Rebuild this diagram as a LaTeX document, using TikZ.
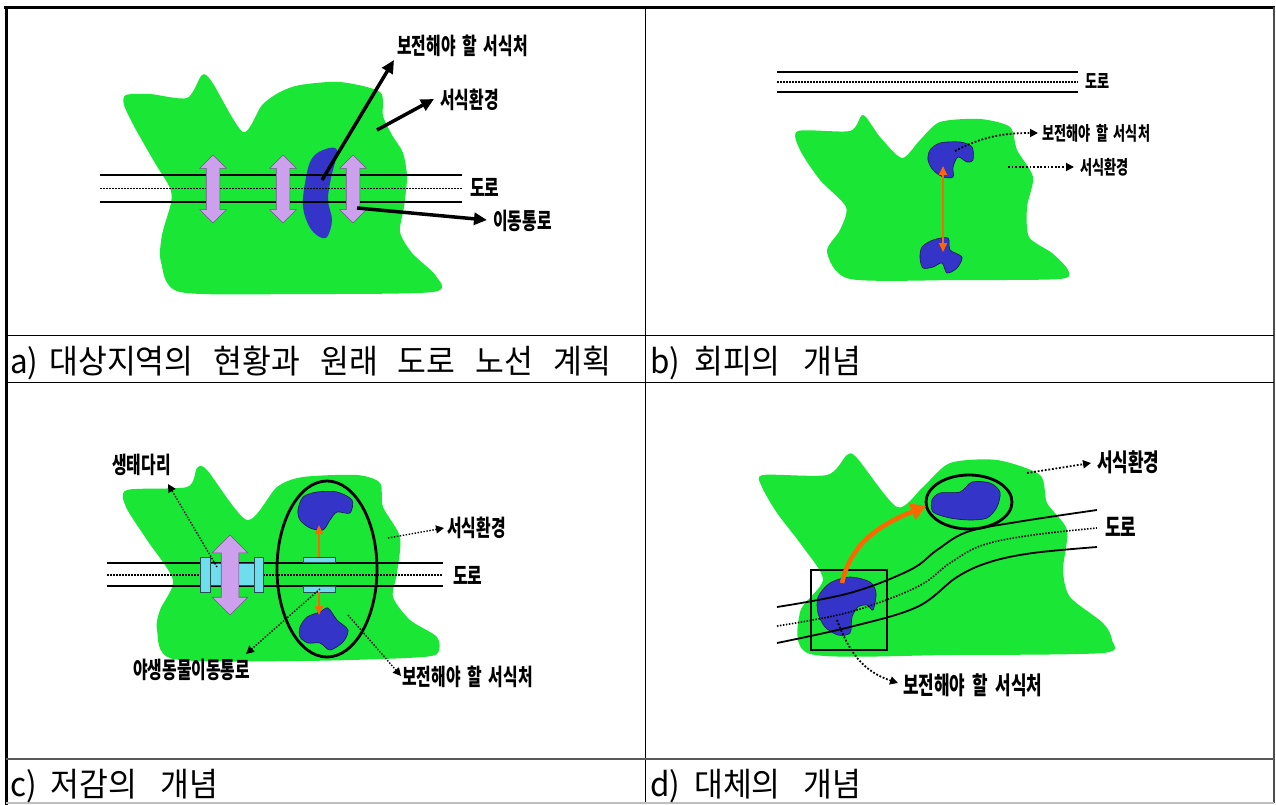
\documentclass[tikz,border=0pt]{standalone}
\usepackage{fontspec}
\newfontfamily\krf[FakeStretch=0.69]{Noto Sans CJK KR}
\newfontfamily\krcap[FakeStretch=0.95]{Noto Sans CJK KR}
\newcommand\ksp{\hspace{0.3em}}
\usetikzlibrary{arrows.meta,shapes.arrows}
\definecolor{grn}{RGB}{26,230,54}
\definecolor{blu}{RGB}{52,52,200}
\definecolor{pur}{RGB}{204,160,236}
\definecolor{cya}{RGB}{110,222,236}
\definecolor{org}{RGB}{255,102,0}
\begin{document}
\begin{tikzpicture}[x=1pt,y=-1pt,
  blob/.style={fill=grn,draw=none},
  pond/.style={fill=blu,draw=blu!40!black,line width=0.6},
  road/.style={line width=1.8},
  roaddot/.style={line width=1.5,dash pattern=on 1.5pt off 1.5pt},
  tbl/.style={line width=1},
  lblA/.style={font=\krf\bfseries\fontsize{23}{25}\selectfont,inner sep=0,anchor=west},
  lblB/.style={font=\krf\bfseries\fontsize{19}{21}\selectfont,inner sep=0,anchor=west},
  lblC/.style={font=\krf\bfseries\fontsize{23}{25}\selectfont,inner sep=0,anchor=west},
  lblD/.style={font=\krf\bfseries\fontsize{24.5}{26}\selectfont,inner sep=0,anchor=west},
  captxt/.style={font=\krcap\fontsize{33}{35}\selectfont,inner sep=0,anchor=base west},
  bigarrow/.style={line width=3.5,-{Triangle[length=13pt,width=12pt]}},
  dotarrow/.style={line width=1.8,dash pattern=on 1.8pt off 1.8pt,-{Triangle[length=8pt,width=8pt]}},
  purarrow/.style={double arrow,draw=pur!55!black,fill=pur,line width=0.6,rotate=90,double arrow head indent=0pt},
  brg/.style={fill=cya,draw=cya!35!black,line width=0.7},
  ring/.style={line width=2.8},
  orarrow/.style={draw=org,line width=2.2,-{Triangle[length=9pt,width=8pt]}}
]
\useasboundingbox (0,0) rectangle (1276,805);
\fill[white] (0,0) rectangle (1276,805);

% ---------------- table ----------------
\draw[line width=3] (4,7.5) -- (1275,7.5);
\draw[line width=3] (6,6) -- (6,805);
\draw[line width=1.5,black!70] (1274,7) -- (1274,803);
\draw[tbl] (645.5,7) -- (645.5,803);
\draw[tbl] (6,335.5) -- (1274,335.5);
\draw[tbl] (6,382) -- (1274,382);
\draw[line width=1.6,black!65] (6,759) -- (1274,759);
\draw[line width=1.2,black!25] (6,803) -- (1274,803);

% captions
\node[captxt] (capa) at (10,373) {a)\hspace{11pt}대상지역의\hspace{20pt}현황과\hspace{20pt}원래\hspace{20pt}도로\hspace{20pt}노선\hspace{20pt}계획};
\node[captxt] (capb) at (650,373) {b)\hspace{14pt}회피의\hspace{23pt}개념};
\node[captxt] (capc) at (10,796) {c)\hspace{14pt}저감의\hspace{23pt}개념};
\node[captxt] (capd) at (650,796) {d)\hspace{14pt}대체의\hspace{23pt}개념};

% ---------------- panel a ----------------
\fill[blob] plot[smooth cycle,tension=0.45] coordinates {
 (126,95) (150,94) (187,98) (202,75) (212,82) (243,132) (262,105) (280,92) (300,85) (340,82) (380,92)
 (383,116) (392,135) (403,153) (407,177) (404,207) (400,232) (412,253) (436,276) (433,292)
 (300,294) (180,292) (161,262) (162,235) (171,203) (170,188) (155,163) (135,128) (124,105)};
\fill[blu] plot[smooth cycle,tension=0.6] coordinates {
 (323,150) (337,150) (331,178) (328,200) (332,220) (327,237) (318,236) (309,226) (303,207) (305,183) (311,160)};
\draw[road] (100,175) -- (462,175);
\draw[road] (100,202) -- (462,202);
\draw[roaddot] (100,188.5) -- (462,188.5);
\node[purarrow,minimum height=68,minimum width=26,inner sep=6.5pt,double arrow head extend=6.5pt] (pa1) at (213,189) {};
\node[purarrow,minimum height=68,minimum width=26,inner sep=6.5pt,double arrow head extend=6.5pt] (pa2) at (283,189) {};
\node[purarrow,minimum height=68,minimum width=26,inner sep=6.5pt,double arrow head extend=6.5pt] (pa3) at (353,189) {};
\node[lblA] (la1) at (397,46) {보전해야\ksp 할\ksp 서식처};
\node[lblA] (la2) at (440,100) {서식환경};
\node[lblA] (la3) at (493,221) {이동통로};
\node[lblA] (lroada) at (470,187) {도로};
\coordinate (a1s) at (322,180);
\coordinate (a1e) at (394,60);
\coordinate (a2s) at (377,130);
\coordinate (a2e) at (434,99);
\coordinate (a3s) at (357,208);
\coordinate (a3e) at (487,220);
\draw[bigarrow] (a1s) -- (a1e);
\draw[bigarrow] (a2s) -- (a2e);
\draw[bigarrow] (a3s) -- (a3e);

% ---------------- panel b ----------------
\draw[road] (777,72) -- (1078,72);
\draw[road] (777,92) -- (1078,92);
\draw[roaddot] (777,82) -- (1078,82);
\node[lblB] (lroadb) at (1085,81) {도로};
\fill[blob] plot[smooth cycle,tension=0.45] coordinates {
 (798,131) (850,131) (863,115) (880,137) (902,158) (920,140) (940,122) (980,119) (1010,127)
 (1017,150) (1033,177) (1027,207) (1029,237) (1052,253) (1068,270) (1060,279)
 (960,280) (850,279) (827,252) (840,230) (846,207) (820,180) (800,150)};
\draw[pond] plot[smooth cycle,tension=0.5] coordinates {
 (930,150) (940,143) (960,142) (972,147) (973,160) (967,162) (958,157) (953,167) (953,177) (943,177) (933,170) (928,160)};
\draw[pond] plot[smooth cycle,tension=0.5] coordinates {
 (922,247) (933,240) (948,238) (950,250) (962,257) (957,268) (947,273) (942,263) (933,267) (923,268) (920,258)};
\coordinate (bo1) at (943,166);
\coordinate (bo2) at (943,252);
\draw[draw=org,line width=2,{Triangle[length=9pt,width=8pt]}-{Triangle[length=9pt,width=8pt]}] (bo1) -- (bo2);
\node[lblB] (lb1) at (1042,133) {보전해야\ksp 할\ksp 서식처};
\node[lblB] (lb2) at (1080,167) {서식환경};
\coordinate (b1s) at (955,151);
\coordinate (b1e) at (1038,133);
\coordinate (b2s) at (1008,167);
\coordinate (b2e) at (1074,167);
\draw[dotarrow] (b1s) .. controls (980,138) and (1000,133) .. (b1e);
\draw[dotarrow] (b2s) -- (b2e);

% ---------------- panel c ----------------
\fill[blob] plot[smooth cycle,tension=0.45] coordinates {
 (127,490) (187,487) (197,468) (207,470) (247,520) (277,487) (303,477) (357,475) (380,483)
 (383,507) (400,537) (397,573) (393,597) (410,620) (437,637) (437,654) (407,658)
 (300,661) (173,659) (157,630) (160,610) (173,580) (147,540) (126,507)};
\draw[road] (107,563) -- (443,563);
\draw[road] (107,586) -- (443,586);
\draw[roaddot] (107,575) -- (443,575);
\node[lblC] (lroadc) at (453,575) {도로};
% bridge
\draw[brg] (210,563) rectangle (255,585);
\draw[brg] (200,557) rectangle (210,592);
\draw[brg] (254,557) rectangle (263,592);
\node[purarrow,minimum height=80,minimum width=35,inner sep=8.5pt,double arrow head extend=9pt] (pc) at (230,575) {};
% habitat ellipse
\draw[pond] plot[smooth cycle,tension=0.5] coordinates {
 (298,510) (303,497) (317,492) (337,492) (352,500) (350,513) (337,512) (330,520) (323,530) (310,528) (300,520)};
\draw[pond] plot[smooth cycle,tension=0.5] coordinates {
 (300,627) (307,617) (320,612) (328,608) (337,620) (348,630) (343,642) (330,650) (320,643) (308,643) (300,637)};
\draw[brg] (303,557) rectangle (335,562.5);
\draw[brg] (303,586.5) rectangle (335,592);
\coordinate (co1s) at (319,557);
\coordinate (co1e) at (319,525);
\coordinate (co2s) at (319,592);
\coordinate (co2e) at (319,615);
\draw[orarrow] (co1s) -- (co1e);
\draw[orarrow] (co2s) -- (co2e);
\draw[ring] (327,569) ellipse [x radius=50,y radius=88];
\node[lblC] (lc1) at (112,465) {생태다리};
\node[lblC] (lc2) at (133,670) {야생동물이동통로};
\node[lblC] (lc3) at (447,528) {서식환경};
\node[lblC] (lc4) at (402,677) {보전해야\ksp 할\ksp 서식처};
\coordinate (c1s) at (217,567);
\coordinate (c1e) at (168,484);
\coordinate (c2s) at (320,589);
\coordinate (c2e) at (246,654);
\coordinate (c3s) at (388,538);
\coordinate (c3e) at (444,528);
\coordinate (c4s) at (348,615);
\coordinate (c4e) at (401,676);
\draw[dotarrow,line width=1.4,dash pattern=on 1.4pt off 1.6pt] (c1s) -- (c1e);
\draw[dotarrow,line width=1.4,dash pattern=on 1.4pt off 1.6pt] (c2s) -- (c2e);
\draw[dotarrow,line width=1.4,dash pattern=on 1.4pt off 1.6pt] (c3s) -- (c3e);
\draw[dotarrow,line width=1.4,dash pattern=on 1.4pt off 1.6pt] (c4s) -- (c4e);

% ---------------- panel d ----------------
\fill[blob] plot[smooth cycle,tension=0.45] coordinates {
 (763,475) (827,475) (847,455) (857,458) (897,507) (923,487) (950,463) (997,460) (1040,475)
 (1047,503) (1067,530) (1063,570) (1070,597) (1103,623) (1112,640) (1103,653)
 (950,655) (810,654) (800,612) (823,580) (803,547) (777,513) (762,487)};
\draw[pond] plot[smooth cycle,tension=0.5] coordinates {
 (818,597) (830,583) (850,577) (870,582) (876,593) (873,610) (867,605) (858,607) (852,617) (850,633) (838,635) (825,627) (818,613)};
\draw[pond] plot[smooth cycle,tension=0.5] coordinates {
 (932,500) (940,493) (960,492) (972,482) (990,483) (1000,492) (997,507) (987,518) (970,520) (950,518) (933,512)};
\draw[line width=1.8] (811,570) rectangle (887,650);
\draw[ring] (969,502) ellipse [x radius=43,y radius=27];
\draw[road] plot[smooth,tension=0.6] coordinates {(777,607) (850,593) (910,570) (937,550) (967,532) (1017,522) (1097,510)};
\draw[roaddot,line width=1.6] plot[smooth,tension=0.6] coordinates {(777,626) (850,612) (917,587) (950,563) (983,545) (1033,535) (1097,528)};
\draw[road] plot[smooth,tension=0.6] coordinates {(777,643) (850,627) (917,607) (957,577) (990,562) (1033,553) (1097,547)};
\coordinate (dos) at (842,583);
\coordinate (doe) at (926,506);
\draw[draw=org,line width=4.5,-{Triangle[length=15pt,width=17pt]}] (dos) .. controls (850,548) and (872,528) .. (doe);
\node[lblD] (ld1) at (1097,462) {서식환경};
\node[lblD] (lroadd) at (1105,527) {도로};
\node[lblD] (ld2) at (903,685) {보전해야\ksp 할\ksp 서식처};
\coordinate (d1s) at (1027,473);
\coordinate (d1e) at (1091,463);
\coordinate (d2s) at (837,620);
\coordinate (d2e) at (898,683);
\draw[dotarrow] (d1s) -- (d1e);
\draw[dotarrow] (d2s) .. controls (850,655) and (865,672) .. (d2e);
\end{tikzpicture}
\end{document}
